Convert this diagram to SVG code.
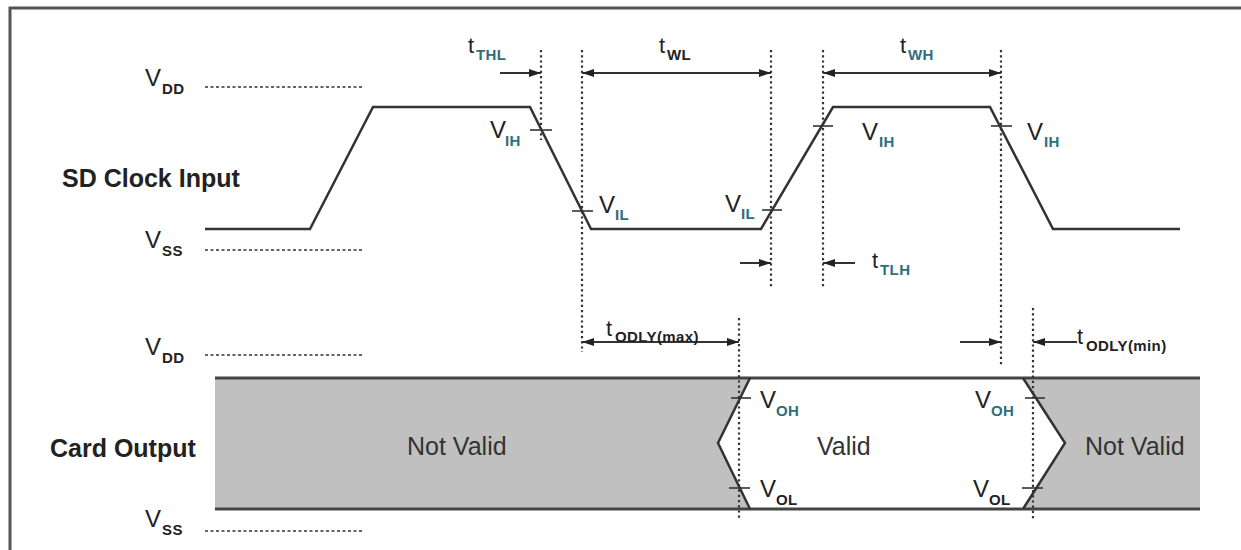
<svg xmlns="http://www.w3.org/2000/svg" width="1241" height="550" viewBox="0 0 1241 550">
<style>
text{font-family:"Liberation Sans",Arial,sans-serif;fill:#222}
.lbl{font-size:25px;font-weight:bold}
.v{font-size:24px}
.t{font-size:22px}
.s{font-size:15px;font-weight:bold;letter-spacing:0.4px}
.tl{fill:#2e6f7c}
.bus{font-size:25px;fill:#333}
.wave{fill:none;stroke:#333;stroke-width:2.5;stroke-linejoin:miter}
.ref{stroke:#333;stroke-width:1.6;stroke-dasharray:3 2.5}
.dot{stroke:#333;stroke-width:2.2;stroke-dasharray:2.2 3}
.tick{stroke:#333;stroke-width:1.6}
.arr{stroke:#333;stroke-width:2;fill:none}
</style>
<defs>
<marker id="ah" viewBox="0 0 12 8" refX="12" refY="4" markerWidth="12" markerHeight="8" markerUnits="userSpaceOnUse" orient="auto-start-reverse">
<path d="M0,0 L12,4 L0,8 z" fill="#222"/>
</marker>
</defs>
<rect width="1241" height="550" fill="#fff"/>
<!-- frame -->
<path d="M10,550 V8 H1241" fill="none" stroke="#555" stroke-width="3"/>

<g id="clock-labels">
<text class="v" x="145" y="86">V</text><text class="s" x="162" y="94">DD</text>
<text class="lbl" x="62" y="187">SD Clock Input</text>
<text class="v" x="145" y="248">V</text><text class="s" x="162" y="256">SS</text>
<line class="ref" x1="205" y1="87" x2="362" y2="87"/>
<line class="ref" x1="205" y1="250" x2="362" y2="250"/>
</g>

<g id="clock-wave">
<path class="wave" d="M205,229 H310 L373,107 H530 L591,229 H761 L833,107 H990 L1053,229 H1180"/>
<line class="tick" x1="530" y1="130" x2="552" y2="130"/>
<line class="tick" x1="572" y1="211" x2="593" y2="211"/>
<line class="tick" x1="762" y1="210" x2="782" y2="210"/>
<line class="tick" x1="813" y1="126" x2="833" y2="126"/>
<line class="tick" x1="991" y1="126" x2="1012" y2="126"/>
<text class="v" x="490" y="138">V</text><text class="s tl" x="505" y="146">IH</text>
<text class="v" x="599" y="213">V</text><text class="s tl" x="615" y="220">IL</text>
<text class="v" x="725" y="212">V</text><text class="s tl" x="741" y="219">IL</text>
<text class="v" x="862" y="140">V</text><text class="s tl" x="879" y="147">IH</text>
<text class="v" x="1027" y="140">V</text><text class="s tl" x="1044" y="147">IH</text>
</g>

<g id="card-labels">
<text class="v" x="145" y="355">V</text><text class="s" x="162" y="363">DD</text>
<text class="lbl" x="50" y="457">Card Output</text>
<text class="v" x="145" y="527">V</text><text class="s" x="162" y="535">SS</text>
<line class="ref" x1="205" y1="355" x2="362" y2="355"/>
<line class="ref" x1="205" y1="531" x2="362" y2="531"/>
</g>

<g id="card-bus">
<path d="M215,378 H750 L718,443 L750,509 H215 Z" fill="#c0c0c0"/>
<path d="M1023,378 H1200 V509 H1023 L1065,443 Z" fill="#c0c0c0"/>
<line x1="215" y1="378" x2="1200" y2="378" stroke="#444" stroke-width="3"/>
<line x1="215" y1="509" x2="1200" y2="509" stroke="#444" stroke-width="3"/>
<path class="wave" d="M750,378 L718,443 L750,509" stroke-width="2"/>
<path class="wave" d="M1023,378 L1065,443 L1023,509" stroke-width="2"/>
<line class="tick" x1="731" y1="398" x2="751" y2="398"/>
<line class="tick" x1="729" y1="488" x2="750" y2="488"/>
<line class="tick" x1="1025" y1="398" x2="1045" y2="398"/>
<line class="tick" x1="1022" y1="488" x2="1043" y2="488"/>
<text class="bus" x="407" y="455">Not Valid</text>
<text class="bus" x="817" y="455">Valid</text>
<text class="bus" x="1085" y="455">Not Valid</text>
<text class="v" x="760" y="408">V</text><text class="s tl" x="776" y="416">OH</text>
<text class="v" x="760" y="497">V</text><text class="s" x="776" y="505">OL</text>
<text class="v" x="975" y="408">V</text><text class="s tl" x="991" y="416">OH</text>
<text class="v" x="973" y="497">V</text><text class="s" x="989" y="505">OL</text>
</g>

<g id="connectors">
<line class="dot" x1="541" y1="50" x2="541" y2="140"/>
<line class="dot" x1="582" y1="50" x2="582" y2="352"/>
<line class="dot" x1="771" y1="50" x2="771" y2="287"/>
<line class="dot" x1="823" y1="50" x2="823" y2="287"/>
<line class="dot" x1="1001" y1="50" x2="1001" y2="365"/>
<line class="dot" x1="739" y1="318" x2="739" y2="518"/>
<line class="dot" x1="1033" y1="308" x2="1033" y2="520"/>
<line class="arr" x1="500" y1="73" x2="541" y2="73" marker-end="url(#ah)"/>
<line class="arr" x1="582" y1="73" x2="771" y2="73" marker-start="url(#ah)" marker-end="url(#ah)"/>
<line class="arr" x1="823" y1="73" x2="1001" y2="73" marker-start="url(#ah)" marker-end="url(#ah)"/>
<line class="arr" x1="740" y1="263" x2="771" y2="263" marker-end="url(#ah)"/>
<line class="arr" x1="855" y1="263" x2="823" y2="263" marker-end="url(#ah)"/>
<line class="arr" x1="582" y1="342" x2="739" y2="342" marker-start="url(#ah)" marker-end="url(#ah)"/>
<line class="arr" x1="960" y1="342" x2="1001" y2="342" marker-end="url(#ah)"/>
<line class="arr" x1="1077" y1="342" x2="1033" y2="342" marker-end="url(#ah)"/>
</g>

<g id="timing-labels">
<text class="t" x="468" y="53">t</text><text class="s tl" x="476" y="60">THL</text>
<text class="t" x="659" y="53">t</text><text class="s" x="667" y="60">WL</text>
<text class="t" x="900" y="53">t</text><text class="s tl" x="908" y="60">WH</text>
<text class="t" x="872" y="268">t</text><text class="s tl" x="880" y="275">TLH</text>
<text class="t" x="606" y="336">t</text><text class="s" x="615" y="342">ODLY(max)</text>
<text class="t" x="1077" y="344">t</text><text class="s" x="1086" y="351">ODLY(min)</text>
</g>
</svg>
